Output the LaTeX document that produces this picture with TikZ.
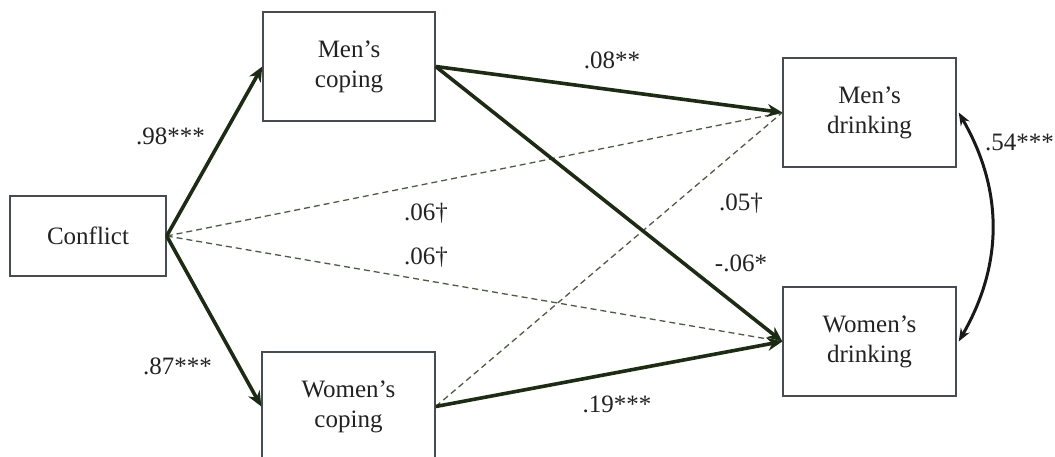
\documentclass[tikz,border=0pt]{standalone}
\usepackage{fontspec}
\setmainfont{Liberation Serif}
\usetikzlibrary{arrows.meta}
\definecolor{pathgreen}{HTML}{1E2B14}
\definecolor{dashgreen}{HTML}{4F5A46}
\definecolor{boxgray}{HTML}{474C52}
\definecolor{txt}{HTML}{222222}
\tikzset{
  varbox/.style={draw=boxgray, line width=1.4pt, fill=white, inner sep=0pt,
    align=center, text=txt, font=\fontsize{25}{30}\selectfont},
  sigpath/.style={draw=pathgreen, line width=3.6pt,
    -{Stealth[length=15pt,width=13pt]}},
  nspath/.style={draw=dashgreen, line width=1.3pt, dash pattern=on 6pt off 4pt},
  corr/.style={draw=black!90, line width=3pt,
    {Stealth[length=13pt,width=10pt]}-{Stealth[length=13pt,width=10pt]}},
  coef/.style={text=txt, font=\fontsize{25}{29}\selectfont, inner sep=0pt}
}
\begin{document}
\begin{tikzpicture}[x=1pt,y=-1pt]
\useasboundingbox (0,0) rectangle (1055,457);
\clip (0,0) rectangle (1055,457);
% boxes
\node[varbox, minimum width=156pt, minimum height=80pt] (conf) at (88,236) {Conflict};
\node[varbox, minimum width=172pt, minimum height=109pt] (mc) at (349,66.5) {Men’s\\coping};
\node[varbox, minimum width=173pt, minimum height=109pt] (wc) at (348.5,406.5) {Women’s\\coping};
\node[varbox, minimum width=173pt, minimum height=109pt] (md) at (869.5,112.5) {Men’s\\drinking};
\node[varbox, minimum width=173pt, minimum height=109pt] (wd) at (869.5,341.5) {Women’s\\drinking};
% dashed (non-significant) paths
\draw[nspath] (conf.east) -- (md.west);
\draw[nspath] (conf.east) -- (wd.west);
\draw[nspath] (wc.east) -- (md.west);
% significant paths
\draw[sigpath] (conf.east) -- (mc.west);
\draw[sigpath] (conf.east) -- (wc.west);
\draw[sigpath] (mc.east) -- (md.west);
\draw[sigpath] (mc.east) -- (wd.west);
\draw[sigpath] (wc.east) -- (wd.west);
% correlation
\draw[corr] ([xshift=2pt]md.east) to[bend left=30] ([xshift=2pt]wd.east);
% coefficients
\node[coef, anchor=east] (l98) at (205,136) {.98***};
\node[coef, anchor=east] (l87) at (212,366) {.87***};
\node[coef] (l08) at (612,60) {.08**};
\node[coef] (l061) at (426,213) {.06†};
\node[coef] (l062) at (426,257) {.06†};
\node[coef] (l05) at (741,203) {.05†};
\node[coef] (l06m) at (741,263) {-.06*};
\node[coef] (l19) at (617,404) {.19***};
\node[coef, anchor=west] (l54) at (985,142) {.54***};
\end{tikzpicture}
\end{document}
